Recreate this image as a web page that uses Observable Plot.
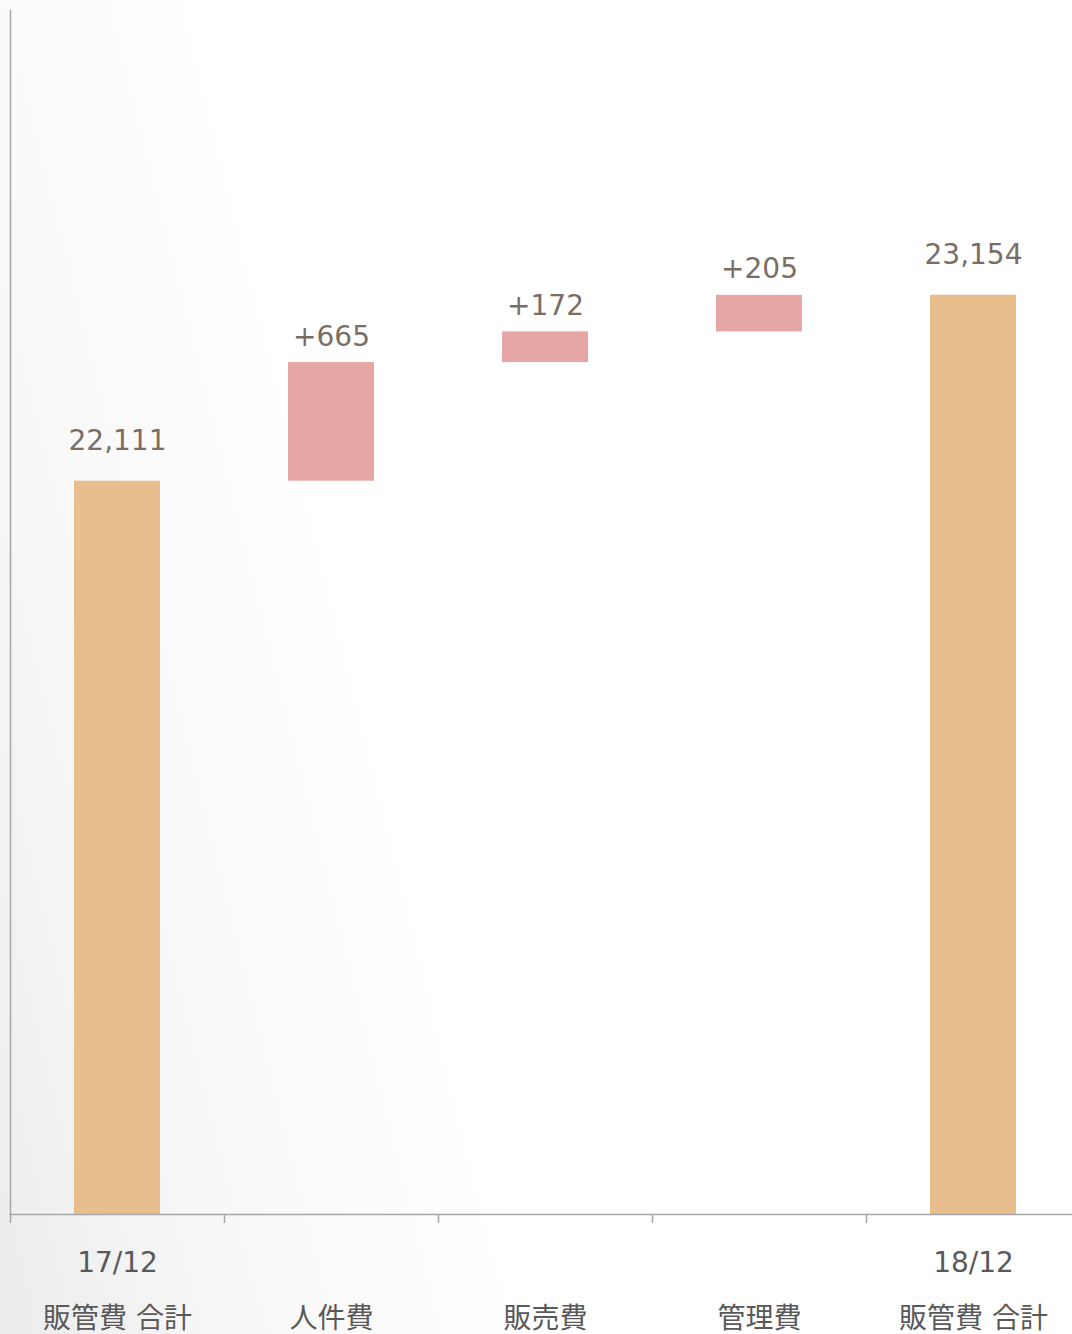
<!DOCTYPE html>
<html>
<head>
<meta charset="utf-8">
<script src="https://cdn.jsdelivr.net/npm/d3@7"></script>
<script src="https://cdn.jsdelivr.net/npm/@observablehq/plot@0.6"></script>
<style>
  html, body { margin: 0; padding: 0; width: 1072px; height: 1334px; overflow: hidden; }
  body { background: linear-gradient(76deg, #ececec 0%, #f8f8f8 18%, #ffffff 38%); }
  #chart svg { display: block; }
</style>
</head>
<body>
<div id="chart"></div>
<script>
const categories = ["start", "人件費", "販売費", "管理費", "end"];
const tickLabels = ["17/12\n販管費 合計", "\n人件費", "\n販売費", "\n管理費", "18/12\n販管費 合計"];
const kinds = ["total", "delta", "delta", "delta", "total"];
const values = [22111, 665, 172, 205, 23154];
const valueLabels = ["22,111", "+665", "+172", "+205", "23,154"];
const yDomain = [18000, 24750];

// build waterfall table
let running = 0;
const rows = categories.map((c, i) => {
  let y1, y2;
  if (kinds[i] === "total") { y1 = yDomain[0]; y2 = values[i]; running = values[i]; }
  else { y1 = running; y2 = running + values[i]; running = y2; }
  return {cat: c, kind: kinds[i], y1, y2, label: valueLabels[i]};
});
const totals = rows.filter(d => d.kind === "total");
const deltas = rows.filter(d => d.kind === "delta");

const font = "'DejaVu Sans', 'Noto Sans CJK JP', sans-serif";
const W = 1072, H = 1334;

const chart = Plot.plot({
  width: W,
  height: H,
  marginLeft: 10,
  marginRight: -8,
  marginTop: 10,
  marginBottom: 120,
  style: {background: "transparent", fontFamily: font, fontSize: "28px", overflow: "hidden"},
  x: {domain: categories, padding: 0, label: null},
  y: {domain: yDomain, label: null, axis: null},
  marks: [
    Plot.barY(rows, {x: "cat", y1: "y1", y2: "y2", fill: d => d.kind === "total" ? "#e9be8e" : "#e6a6a6", insetLeft: 64, insetRight: 64}),
    Plot.text(totals, {x: "cat", y: "y2", text: "label", dy: -40, fill: "#7a6e64", fontSize: 28}),
    Plot.text(deltas, {x: "cat", y: "y2", text: "label", dy: -26, fill: "#7a6e64", fontSize: 28}),
    Plot.frame({anchor: "left", stroke: "#a6a6a6", strokeWidth: 1.5}),
    Plot.frame({anchor: "bottom", stroke: "#a6a6a6", strokeWidth: 1.5}),
    Plot.axisX({tickSize: 9, text: null, dx: -107, stroke: "#a6a6a6", strokeWidth: 1.5}),
    Plot.axisX({tickSize: 0, tickPadding: 18, tickFormat: (d) => tickLabels[categories.indexOf(d)], lineHeight: 2, fontSize: 28, fill: "#595959", lineAnchor: "top"})
  ]
});
document.getElementById("chart").appendChild(chart);
</script>
</body>
</html>
